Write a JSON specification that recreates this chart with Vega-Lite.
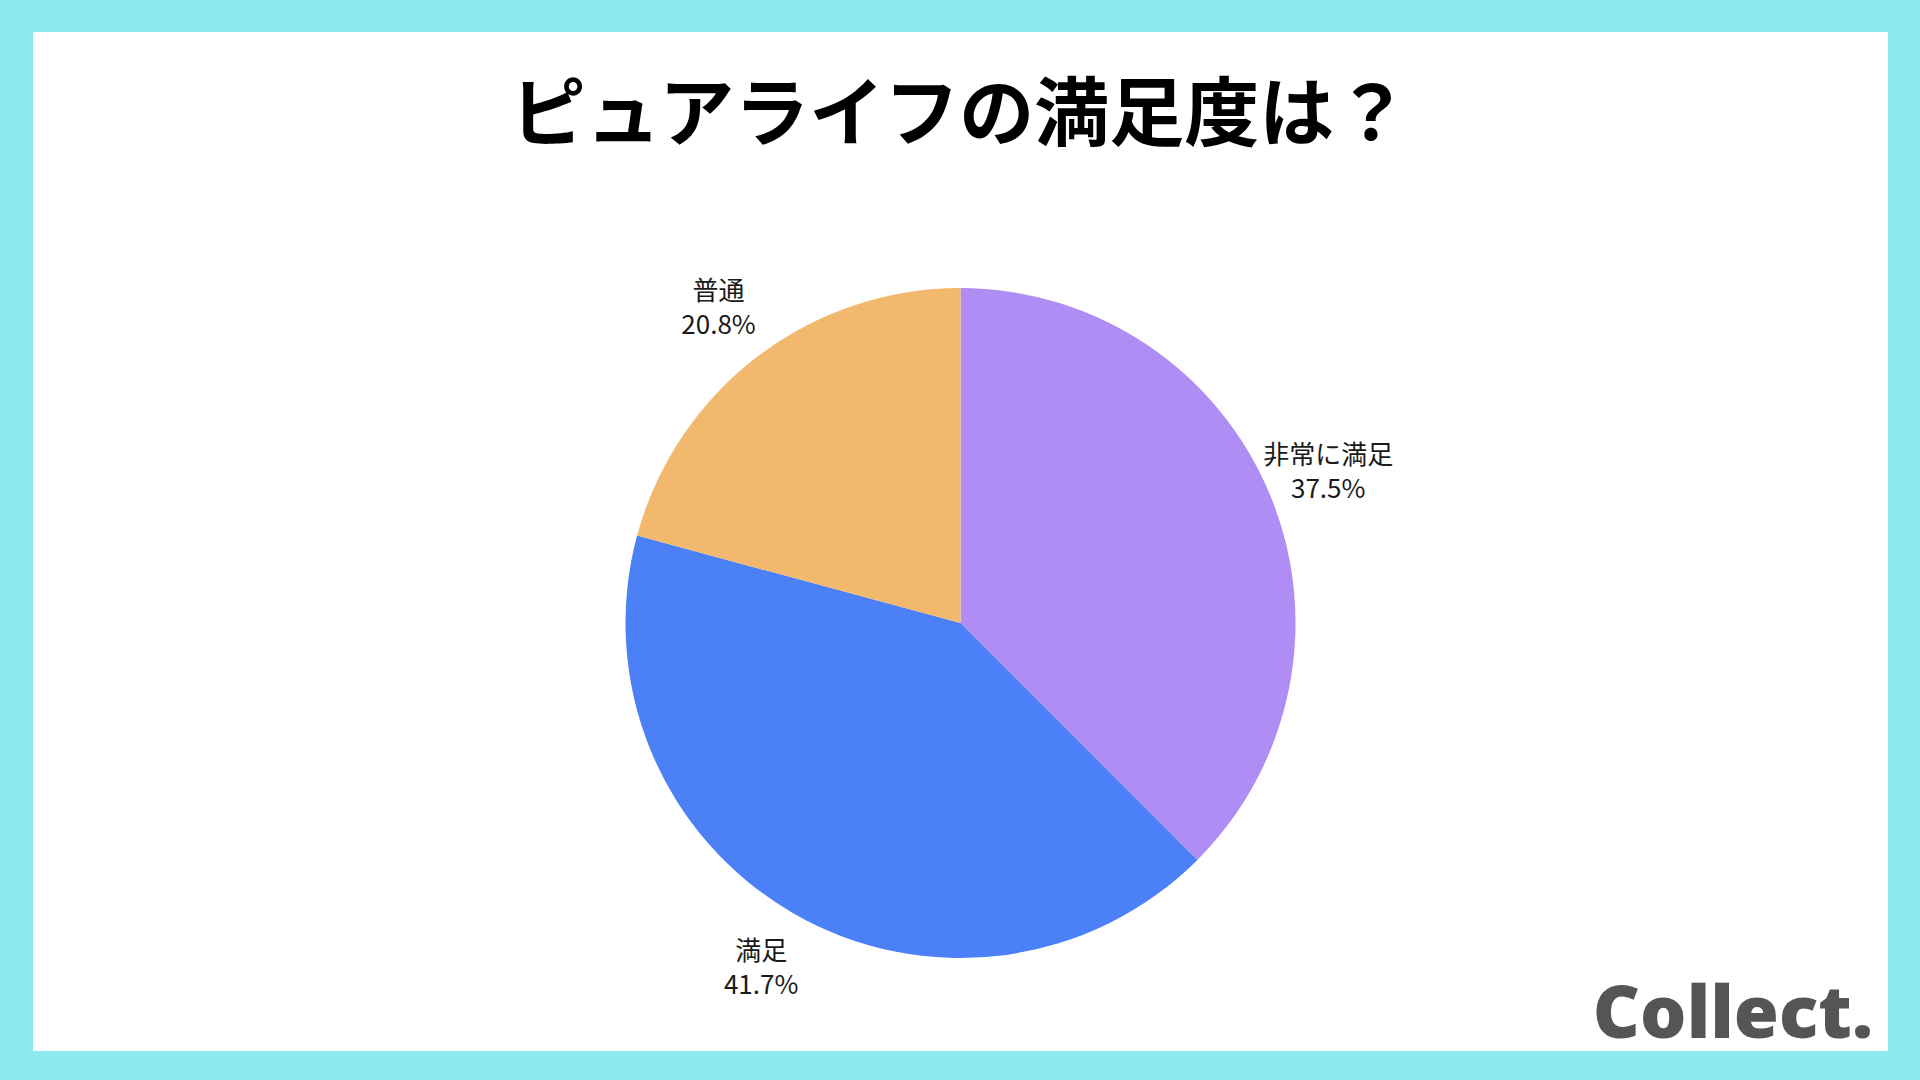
{
  "$schema": "https://vega.github.io/schema/vega-lite/v6.json",
  "background": "#8CE9EE",
  "padding": {"left": 33, "top": 32, "right": 32, "bottom": 29},
  "spacing": 0,
  "config": {
    "view": {"fill": "white", "stroke": null},
    "concat": {"spacing": 0}
  },
  "datasets": {
    "pie": [
      {"category": "非常に満足", "value": 37.5, "order": 1, "label": "非常に満足\n37.5%"},
      {"category": "満足", "value": 41.7, "order": 2, "label": "満足\n41.7%"},
      {"category": "普通", "value": 20.8, "order": 3, "label": "普通\n20.8%"}
    ],
    "title": [{"text": "ピュアライフの満足度は？"}],
    "logo": [{"text": "Collect."}]
  },
  "vconcat": [
    {
      "width": 1855,
      "height": 163,
      "data": {"name": "title"},
      "mark": {
        "type": "text",
        "font": "Noto Sans CJK JP",
        "fontWeight": "bold",
        "fontSize": 75,
        "letterSpacing": 3,
        "color": "#000000",
        "align": "center",
        "baseline": "middle",
        "dy": 4
      },
      "encoding": {
        "x": {"value": 927},
        "y": {"value": 81},
        "text": {"field": "text"}
      }
    },
    {
      "width": 1855,
      "height": 856,
      "layer": [
        {
          "data": {"name": "pie"},
          "mark": {"type": "arc", "outerRadius": 335, "stroke": null},
          "encoding": {
            "theta": {"field": "value", "type": "quantitative", "stack": true},
            "order": {"field": "order", "type": "quantitative"},
            "color": {
              "field": "category",
              "type": "nominal",
              "scale": {
                "domain": ["非常に満足", "満足", "普通"],
                "range": ["#AF8DF4", "#4B80F7", "#F2B86D"]
              },
              "legend": null
            }
          }
        },
        {
          "data": {"name": "pie"},
          "mark": {
            "type": "text",
            "radius": 398,
            "font": "Noto Sans CJK JP",
            "fontSize": 26,
            "lineHeight": 34,
            "lineBreak": "\n",
            "color": "#1a1a1a",
            "align": "center",
            "baseline": "middle",
            "dy": -15
          },
          "encoding": {
            "theta": {"field": "value", "type": "quantitative", "stack": true},
            "order": {"field": "order", "type": "quantitative"},
            "text": {"field": "label"}
          }
        },
        {
          "data": {"name": "logo"},
          "mark": {
            "type": "text",
            "font": "Open Sans",
            "fontWeight": 800,
            "fontSize": 73,
            "letterSpacing": 1.5,
            "color": "#555555",
            "align": "right",
            "baseline": "alphabetic"
          },
          "encoding": {
            "x": {"value": 1840},
            "y": {"value": 843},
            "text": {"field": "text"}
          }
        }
      ]
    }
  ]
}
